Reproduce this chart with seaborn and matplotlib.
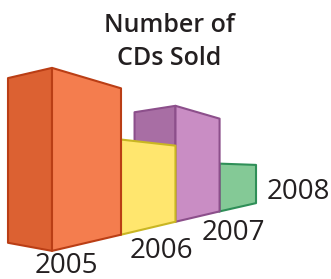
import matplotlib
matplotlib.use('Agg')
import matplotlib.pyplot as plt
import seaborn as sns

# Data

years = ['2005', '2006', '2007', '2008']
cds_sold = [50, 32.5, 49.5, 25.5]
title_lines = ['Number of', 'CDs Sold']

# Colours: (side face, front face, edge)

side_colors = ['#DC6132', '#FFE66E', '#A86EA4', '#84C996']
front_colors = ['#F47D4E', '#FFE66E', '#C98DC4', '#84C996']
edge_colors = ['#BA3E15', '#C9B623', '#8C4F8B', '#2F8F58']

# Layout of the fake perspective (pixels)

HORIZON = 170
EYE = 22.1          # eye height in data units
SCALE0 = 3.66       # pixels per unit on the nearest edge
SHRINK = 0.8        # scale change from one bar edge to the next
BACK = 0.1          # extra shrink for the back edge of a bar
DEPTH_PX = 44       # horizontal offset of the back edge
ROW_U0, ROW_A, ROW_K = 52, 85.13, 0.1333

label_pos = [(66, 273), (161, 258), (233, 240), (298, 199)]
title_pos = [(169, 32), (169, 65)]


def project(x, y, z):
    # x: position along the row, y: depth (0 front, 1 back), z: value
    u = (ROW_U0 + ROW_A * x) / (1 + ROW_K * x) - DEPTH_PX * (1 - 0.035 * x) * y
    scale = SCALE0 * SHRINK ** x * (1 - BACK * y)
    v = HORIZON - (z - EYE) * scale
    return u, v


def face(points):
    pts = [project(*p) for p in points]
    return [p[0] for p in pts], [p[1] for p in pts]


sns.set_style('white')
plt.rcParams['font.family'] = ['Open Sans', 'DejaVu Sans']

fig = plt.figure(figsize=(3.31, 2.79), dpi=100)
ax = fig.add_axes([0, 0, 1, 1])
ax.set_xlim(0, 331)
ax.set_ylim(279, 0)
ax.axis('off')

# Draw the bars from the back to the front so the near ones cover the far ones

for i in reversed(range(len(years))):
    h = cds_sold[i]

    xs, ys = face([(i, 0, 0), (i, 1, 0), (i, 1, h), (i, 0, h)])
    ax.fill(xs, ys, facecolor=side_colors[i], edgecolor=edge_colors[i],
            linewidth=1.5, joinstyle='round')

    xs, ys = face([(i, 0, 0), (i + 1, 0, 0), (i + 1, 0, h), (i, 0, h)])
    ax.fill(xs, ys, facecolor=front_colors[i], edgecolor=edge_colors[i],
            linewidth=1.5, joinstyle='round')

# Year labels

for year, (x, y) in zip(years, label_pos):
    ax.text(x, y, year, fontsize=20, color='#231F20', ha='center', va='baseline')

# Title

for line, (x, y) in zip(title_lines, title_pos):
    ax.text(x, y, line, fontsize=18, fontweight='semibold', color='#231F20',
            ha='center', va='baseline')

fig.savefig('out.png', dpi=100)
